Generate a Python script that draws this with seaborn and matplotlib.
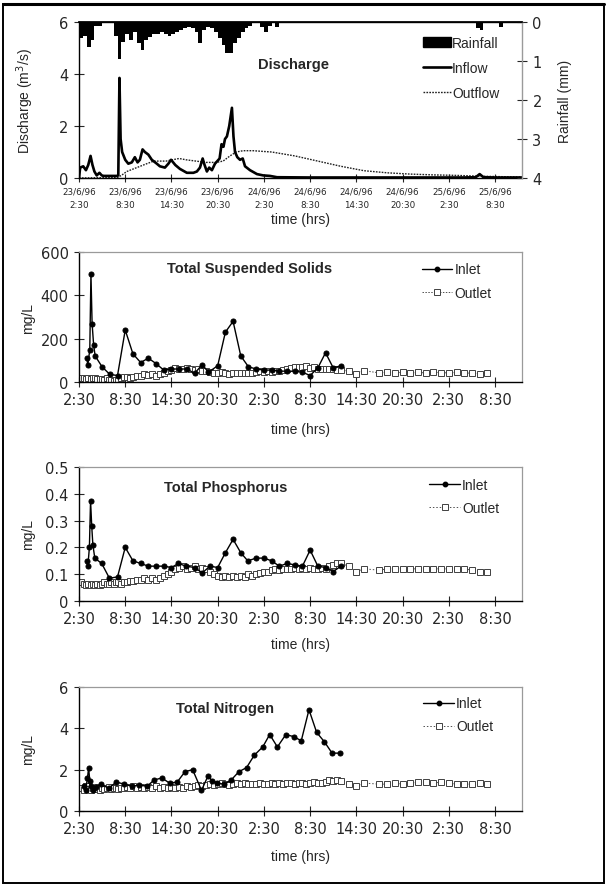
import matplotlib
matplotlib.use("Agg")
import matplotlib.pyplot as plt
import seaborn as sns
from matplotlib.lines import Line2D
from matplotlib.patches import Patch, Rectangle

# ---------------- data (hours after 23/6/96 2:30) ----------------
rain_start = [0.0, 0.5, 1.0, 1.5, 2.0, 2.5,
              4.5, 5.0, 5.5, 6.0, 6.5, 7.0, 7.5, 8.0, 8.5, 9.0,
              9.5, 10.0, 10.5, 11.0, 11.5, 12.0, 12.5, 13.0, 13.5, 14.0,
              14.5, 15.0, 15.5, 16.0, 16.5, 17.0, 17.5, 18.0, 18.5, 19.0,
              19.5, 20.0, 20.5, 21.0, 21.5, 22.0,
              23.5, 24.0, 24.5, 25.5,
              51.5, 52.0, 54.5]
rain_mm = [0.4, 0.35, 0.65, 0.45, 0.1, 0.1,
           0.35, 0.95, 0.5, 0.3, 0.45, 0.25, 0.55, 0.72, 0.45, 0.38,
           0.3, 0.3, 0.25, 0.3, 0.35, 0.3, 0.25, 0.2, 0.15, 0.12,
           0.15, 0.25, 0.55, 0.2, 0.12, 0.15, 0.25, 0.4, 0.6, 0.8,
           0.8, 0.55, 0.4, 0.25, 0.15, 0.1,
           0.12, 0.25, 0.1, 0.12,
           0.15, 0.2, 0.12]

inflow_h = [0.0, 0.15, 0.55, 0.9, 1.2, 1.5, 1.75, 2.0, 2.3, 2.65, 2.95, 3.2, 4.9, 5.1,
            5.25, 5.4, 5.6, 6.0, 6.4, 6.85, 7.25, 7.6, 7.9, 8.25, 8.55, 9.0, 9.45, 10.1,
            10.5, 11.15, 11.6, 11.95, 12.5, 13.1, 14.0, 14.85, 15.3, 15.7, 16.05, 16.3,
            16.6, 16.9, 17.25, 17.65, 18.25, 18.5, 18.75, 18.95, 19.2, 19.5, 19.85, 20.05,
            20.25, 20.55, 20.9, 21.25, 21.55, 22.2, 23.1, 23.9, 24.8, 25.7, 30.0, 40.0,
            50.0, 51.5, 52.0, 52.5, 54.0, 57.5]
inflow_q = [0.0, 0.4, 0.45, 0.3, 0.5, 0.85, 0.5, 0.25, 0.1, 0.2, 0.1, 0.08, 0.08, 0.1,
            3.85, 1.5, 1.0, 0.7, 0.55, 0.6, 0.8, 0.6, 0.7, 1.1, 1.0, 0.9, 0.7, 0.55,
            0.45, 0.4, 0.55, 0.7, 0.5, 0.35, 0.2, 0.2, 0.25, 0.4, 0.75, 0.5,
            0.25, 0.4, 0.3, 0.55, 0.75, 1.3, 1.2, 1.5, 1.6, 2.0, 2.7, 1.6,
            1.0, 0.8, 0.7, 0.75, 0.45, 0.3, 0.15, 0.1, 0.08, 0.03, 0.02, 0.02,
            0.02, 0.03, 0.15, 0.03, 0.02, 0.02]

outflow_h = [0.0, 5.0, 5.5, 6.2, 7.5, 8.8, 9.7, 11.3, 12.1, 13.0, 13.9, 15.2, 16.5,
             17.8, 18.7, 19.6, 20.4, 21.3, 22.6, 24.0, 25.0, 28.0, 31.0, 34.0, 37.0,
             40.0, 43.0, 46.0, 49.0, 52.0, 55.0, 57.5]
outflow_q = [0.0, 0.02, 0.1, 0.25, 0.4, 0.55, 0.65, 0.65, 0.7, 0.75, 0.7, 0.65, 0.6,
             0.6, 0.65, 0.85, 1.0, 1.05, 1.05, 1.02, 1.0, 0.85, 0.65, 0.45, 0.28,
             0.2, 0.15, 0.12, 0.1, 0.07, 0.05, 0.04]

tss_in_h = [1.0, 1.15, 1.4, 1.55, 1.7, 1.9, 2.1, 3.0, 4.0, 5.0,
            6.0, 7.0, 8.0, 9.0, 10.0, 11.0, 12.0, 13.0, 14.0, 15.0,
            16.0, 16.8, 18.0, 19.0, 20.0, 21.0, 22.0, 23.0, 24.0, 25.0,
            26.0, 27.0, 28.0, 29.0, 30.0, 31.0, 32.0, 33.0, 34.0]
tss_in = [110, 80, 150, 500, 270, 170, 120, 70, 35, 30,
          240, 130, 90, 110, 85, 55, 60, 60, 60, 40,
          80, 45, 75, 230, 280, 120, 70, 60, 55, 55,
          50, 50, 50, 45, 30, 65, 135, 65, 75]

tp_in_h = [1.0, 1.15, 1.35, 1.5, 1.65, 1.8, 2.05,
           2.95, 3.95, 5.0, 6.0, 7.0, 8.0, 9.0, 10.0, 11.0, 12.0,
           12.9, 13.9, 15.0, 16.0, 17.0, 18.0, 19.0, 20.0, 21.0, 21.9,
           23.0, 24.0, 25.0, 26.0, 27.0, 28.0, 29.0, 30.0, 31.0, 32.0,
           33.0, 34.0]
tp_in = [0.15, 0.13, 0.20, 0.375, 0.28, 0.21, 0.16,
         0.14, 0.085, 0.09, 0.20, 0.15, 0.14, 0.13, 0.13, 0.13, 0.125,
         0.14, 0.13, 0.125, 0.105, 0.13, 0.125, 0.18, 0.23, 0.18, 0.15,
         0.16, 0.16, 0.15, 0.13, 0.14, 0.135, 0.13, 0.19, 0.13, 0.125,
         0.11, 0.13]

tn_in_h = [0.65, 0.85, 1.1, 1.25, 1.4, 1.6, 1.85, 2.15, 2.85, 3.85,
           4.85, 5.85, 6.85, 7.85, 8.85, 9.75, 10.75, 11.75, 12.75, 13.75,
           14.75, 15.9, 16.75, 17.3, 17.85, 18.85, 19.75, 20.75, 21.75, 22.75,
           23.85, 24.75, 25.75, 26.85, 27.85, 28.85, 29.85, 30.85, 31.85, 32.85,
           33.85]
tn_in = [1.2, 1.0, 1.6, 2.1, 1.45, 1.2, 1.0, 1.15, 1.3, 1.1,
         1.4, 1.3, 1.2, 1.25, 1.2, 1.5, 1.6, 1.35, 1.4, 1.9,
         2.0, 1.0, 1.7, 1.45, 1.35, 1.3, 1.5, 1.9, 2.1, 2.7,
         3.1, 3.7, 3.1, 3.7, 3.6, 3.4, 4.9, 3.8, 3.35, 2.8,
         2.8]

outlet_h = [0.3, 0.6, 0.9, 1.2, 1.5, 1.8, 2.1, 2.4, 2.7, 3.0, 3.3, 3.6, 3.9, 4.2, 4.5, 4.8, 5.1, 5.4,
            5.8, 6.2, 6.6, 7.0, 7.5, 8.0, 8.5, 9.0, 9.5, 10.0, 10.5, 11.0,
            11.5, 12.0, 12.5, 13.0, 13.5, 14.0, 14.5, 15.0, 15.5, 16.0, 16.5,
            17.0, 17.5, 18.0, 18.5, 19.0, 19.5, 20.0, 20.5, 21.0, 21.5, 22.0, 22.5,
            23.0, 23.5, 24.0, 24.5, 25.0, 25.5, 26.0, 26.5, 27.0,
            27.5, 28.0, 28.5, 29.0, 29.5, 30.0, 30.5, 31.0,
            31.5, 32.0, 32.5, 33.0, 33.5, 34.0, 35.0, 36.0, 37.0,
            39.0, 40.0, 41.0, 42.0, 43.0, 44.0, 45.0, 46.0, 47.0, 48.0, 49.0, 50.0, 51.0, 52.0, 53.0]
tss_out = [18, 18, 15, 18, 15, 20, 18, 15, 12, 15, 10, 20, 8, 10, 5, 10, 8, 20,
           22, 25, 20, 25, 28, 30, 35, 32, 35, 30, 35, 40,
           50, 55, 65, 62, 60, 65, 58, 55, 58, 52, 50,
           45, 42, 40, 45, 40, 38, 42, 40, 42, 40, 43, 40,
           45, 50, 48, 50, 48, 52, 50, 55, 60,
           65, 68, 70, 68, 72, 65, 70, 62,
           60, 62, 58, 60, 55, 55, 50, 38, 52,
           42, 45, 42, 45, 42, 44, 42, 45, 43, 42, 44, 40, 42, 38, 40]
tp_out = [0.07, 0.065, 0.06, 0.065, 0.06, 0.065, 0.06, 0.065, 0.06, 0.065, 0.07, 0.065, 0.065, 0.07, 0.065, 0.07, 0.07, 0.065,
          0.07, 0.07, 0.075, 0.075, 0.08, 0.08, 0.085, 0.08, 0.085, 0.08, 0.085, 0.095,
          0.1, 0.11, 0.12, 0.125, 0.13, 0.12, 0.125, 0.13, 0.12, 0.125, 0.12,
          0.11, 0.1, 0.095, 0.09, 0.095, 0.09, 0.095, 0.09, 0.095, 0.09, 0.1, 0.095,
          0.1, 0.105, 0.11, 0.11, 0.115, 0.12, 0.115, 0.12, 0.12,
          0.12, 0.125, 0.12, 0.125, 0.12, 0.125, 0.12, 0.12,
          0.125, 0.12, 0.13, 0.135, 0.14, 0.14, 0.13, 0.11, 0.12,
          0.115, 0.12, 0.12, 0.12, 0.12, 0.12, 0.12, 0.12, 0.12, 0.12, 0.12, 0.12, 0.115, 0.11, 0.11]
tn_out = [1.1, 1.0, 1.2, 1.05, 1.0, 1.1, 1.05, 1.15, 1.0, 1.1, 1.05, 1.1, 1.15, 1.05, 1.1, 1.1, 1.05, 1.1,
          1.1, 1.15, 1.1, 1.2, 1.1, 1.15, 1.1, 1.15, 1.1, 1.2, 1.1, 1.15,
          1.1, 1.15, 1.1, 1.15, 1.1, 1.2, 1.15, 1.2, 1.25, 1.2, 1.25,
          1.3, 1.25, 1.3, 1.35, 1.3, 1.25, 1.3, 1.35, 1.3, 1.35, 1.3, 1.3,
          1.3, 1.35, 1.3, 1.3, 1.35, 1.3, 1.35, 1.3, 1.35,
          1.35, 1.3, 1.35, 1.35, 1.3, 1.35, 1.4, 1.35,
          1.35, 1.4, 1.5, 1.45, 1.5, 1.45, 1.3, 1.2, 1.35,
          1.3, 1.3, 1.35, 1.3, 1.35, 1.4, 1.4, 1.35, 1.4, 1.35, 1.3, 1.3, 1.3, 1.35, 1.3]

tick_hours = [0, 6, 12, 18, 24, 30, 36, 42, 48, 54]
date_labels = ["23/6/96\n2:30", "23/6/96\n8:30", "23/6/96\n14:30", "23/6/96\n20:30",
               "24/6/96\n2:30", "24/6/96\n8:30", "24/6/96\n14:30", "24/6/96\n20:30",
               "25/6/96\n2:30", "25/6/96\n8:30"]
time_labels = ["2:30", "8:30", "14:30", "20:30", "2:30", "8:30", "14:30", "20:30", "2:30", "8:30"]

# ---------------- figure ----------------
sns.set_theme(style="ticks")
plt.rcParams['font.family'] = ['Liberation Sans', 'DejaVu Sans']
NARROW = 'Liberation Sans Narrow'

W, H = 607, 887
fig = plt.figure(figsize=(W / 100, H / 100), dpi=100)
fig.patch.set_facecolor('white')


def axpos(l, t, r, b):
    return [l / W, 1 - b / H, (r - l) / W, (b - t) / H]


GRAY = '#9a9a9a'
XMAX = 57.5

# ---- Panel 1: discharge + rainfall ----
ax1 = fig.add_axes(axpos(79, 23, 522, 179))
sns.lineplot(x=outflow_h, y=outflow_q, ax=ax1, color='#202020', linewidth=1.0,
             linestyle=(0, (1.2, 0.9)), sort=False, estimator=None)
sns.lineplot(x=inflow_h, y=inflow_q, ax=ax1, color='black', linewidth=1.9,
             sort=False, estimator=None)
ax1.set_xlim(0, XMAX)
ax1.set_ylim(0, 6)
ax1.set_yticks([0, 2, 4, 6])
ax1.set_xticks(tick_hours)
ax1.set_xticklabels(date_labels, fontsize=6.3, family=NARROW, linespacing=1.7)
ax1.tick_params(axis='y', labelsize=10.5, labelfontfamily=NARROW, direction='inout', length=7, width=0.8, pad=4)
ax1.tick_params(axis='x', direction='inout', length=6, width=0.8, pad=3)
ax1.set_xlabel('time (hrs)', fontsize=10)
ax1.xaxis.set_label_coords(0.5, -0.215)
ax1.set_ylabel('Discharge (m$^3$/s)', fontsize=10)
ax1.yaxis.set_label_coords(-0.097, 0.5)
for s in ['left', 'bottom', 'top']:
    ax1.spines[s].set_color('black')
    ax1.spines[s].set_linewidth(1.0)
ax1.spines['right'].set_visible(False)

ax2 = ax1.twinx()
ax2.bar(rain_start, rain_mm, width=0.5, align='edge', color='black', linewidth=0)
ax2.set_ylim(4, 0)
ax2.set_yticks([0, 1, 2, 3, 4])
ax2.tick_params(axis='y', labelsize=10.5, labelfontfamily=NARROW, direction='inout', length=7, width=0.8, pad=4)
ax2.set_ylabel('Rainfall (mm)', fontsize=10, rotation=90)
ax2.yaxis.set_label_coords(1.081, 0.5)
ax2.spines['right'].set_color(GRAY)
ax2.spines['right'].set_linewidth(1.0)
for s in ['left', 'bottom']:
    ax2.spines[s].set_visible(False)
ax2.spines['top'].set_color('black')
ax2.set_xlim(0, XMAX)

ax1.text(0.485, 0.73, 'Discharge', transform=ax1.transAxes, fontsize=10.5,
         fontweight='bold', ha='center', va='center')
h1 = [Patch(facecolor='black', edgecolor='black'),
      Line2D([], [], color='black', lw=1.9),
      Line2D([], [], color='#202020', lw=1.0, ls=(0, (1.2, 0.9)))]
leg1 = ax2.legend(h1, ['Rainfall', 'Inflow', 'Outflow'], loc='upper left',
                  bbox_to_anchor=(0.773, 0.92), frameon=False, fontsize=10,
                  handlelength=2.0, handletextpad=0.1, labelspacing=0.8,
                  borderpad=0.1, borderaxespad=0)


def quality_panel(top, bottom, in_h, in_v, out_v, ylim, yticks, ytlabels, title,
                  title_xy, leg_xy, ls_out, xlab_y):
    ax = fig.add_axes(axpos(79, top, 522, bottom))
    sns.lineplot(x=outlet_h, y=out_v, ax=ax, color='#505050', linewidth=0.7,
                 linestyle=ls_out, marker='s', markersize=4.2,
                 markerfacecolor='white', markeredgecolor='#404040',
                 markeredgewidth=0.7, sort=False, estimator=None)
    sns.lineplot(x=in_h, y=in_v, ax=ax, color='black', linewidth=1.0,
                 marker='o', markersize=3.6, markeredgecolor='black',
                 markerfacecolor='black', sort=False, estimator=None)
    ax.set_xlim(0, XMAX)
    ax.set_ylim(*ylim)
    ax.set_yticks(yticks)
    ax.set_yticklabels(ytlabels)
    ax.set_xticks(tick_hours)
    ax.set_xticklabels(time_labels)
    ax.tick_params(axis='both', labelsize=10.5, labelfontfamily=NARROW,
                   direction='inout', length=7, width=0.8)
    ax.tick_params(axis='x', pad=4)
    ax.tick_params(axis='y', pad=4)
    for s in ['left', 'bottom']:
        ax.spines[s].set_color('black')
        ax.spines[s].set_linewidth(1.0)
    for s in ['top', 'right']:
        ax.spines[s].set_visible(True)
        ax.spines[s].set_color(GRAY)
        ax.spines[s].set_linewidth(0.9)
    ax.set_xlabel('time (hrs)', fontsize=10)
    ax.xaxis.set_label_coords(0.5, xlab_y)
    ax.set_ylabel('mg/L', fontsize=10)
    ax.yaxis.set_label_coords(-0.10, 0.5)
    ax.text(title_xy[0], title_xy[1], title, transform=ax.transAxes,
            fontsize=10.5, fontweight='bold', ha='center', va='center')
    hh = [Line2D([], [], color='black', lw=1.0, marker='o', ms=3.2),
          Line2D([], [], color='#505050', lw=0.7, ls=ls_out, marker='s', ms=4,
                 mfc='white', mec='#404040', mew=0.7)]
    ax.legend(hh, ['Inlet', 'Outlet'], loc='upper left', bbox_to_anchor=leg_xy,
              frameon=False, fontsize=10, handlelength=2.2, handletextpad=0.15,
              labelspacing=0.65, borderpad=0.1, borderaxespad=0)
    return ax


ax3 = quality_panel(253, 383, tss_in_h, tss_in, tss_out, (0, 600), [0, 200, 400, 600],
                    ['0', '200', '400', '600'], 'Total Suspended Solids',
                    (0.385, 0.88), (0.771, 0.93), (0, (1.5, 1.5)), -0.308)

ax4 = quality_panel(468, 602, tp_in_h, tp_in, tp_out, (0, 0.5),
                    [0, 0.1, 0.2, 0.3, 0.4, 0.5],
                    ['0', '0.1', '0.2', '0.3', '0.4', '0.5'], 'Total Phosphorus',
                    (0.33, 0.85), (0.788, 0.93), (0, (1.5, 2.0)), -0.27)

ax5 = quality_panel(688, 812, tn_in_h, tn_in, tn_out, (0, 6), [0, 2, 4, 6],
                    ['0', '2', '4', '6'], 'Total Nitrogen',
                    (0.33, 0.83), (0.774, 0.935), (0, (1.5, 2.0)), -0.31)

# outer frame
fig.add_artist(Rectangle((3 / W, 3 / H), (W - 6) / W, (H - 7.5) / H, transform=fig.transFigure,
                         fill=False, lw=1.4, ec='black'))
fig.add_artist(Line2D([3 / W, (W - 3) / W], [1 - 4.5 / H, 1 - 4.5 / H],
                      transform=fig.transFigure, lw=2.2, color='black'))

fig.savefig('out.png', dpi=100, facecolor='white')
